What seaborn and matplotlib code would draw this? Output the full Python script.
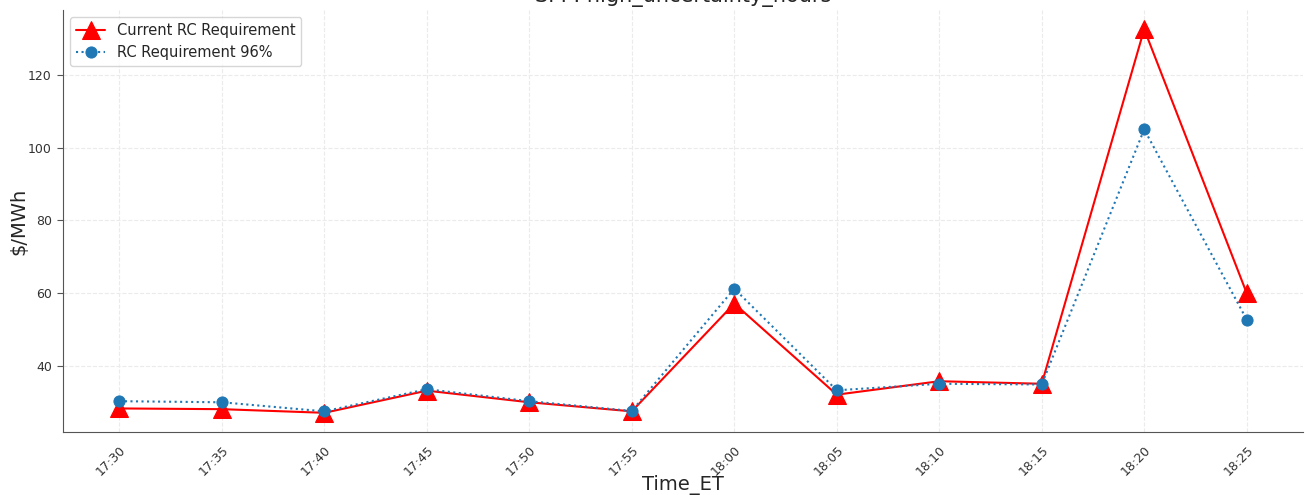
import matplotlib
matplotlib.use("Agg")
import matplotlib.pyplot as plt
import seaborn as sns
import pandas as pd

times = ["17:30", "17:35", "17:40", "17:45", "17:50", "17:55",
         "18:00", "18:05", "18:10", "18:15", "18:20", "18:25"]
current_rc = [28.2, 28.0, 27.0, 33.1, 29.9, 27.4, 57.1, 32.0, 35.7, 35.0, 132.7, 60.0]
rc_96 = [30.2, 29.9, 27.4, 33.5, 30.2, 27.5, 61.2, 33.2, 35.0, 34.8, 105.1, 52.7]

sns.set_style("white", {
    "axes.edgecolor": "#555555",
    "grid.color": "#e6e6e6",
    "grid.linestyle": "--",
    "xtick.bottom": True,
    "ytick.left": True,
})

df = pd.DataFrame({"Time_ET": times, "current": current_rc, "p96": rc_96})
df["idx"] = range(len(times))

fig = plt.figure(figsize=(13.05, 4.95), dpi=100)
ax = fig.add_axes([0.0483, 0.1273, 0.9502, 0.8525])

sns.lineplot(data=df, x="idx", y="current", ax=ax, color="red", linestyle="-",
             marker="^", markersize=13, markeredgecolor="red", linewidth=1.5,
             label="Current RC Requirement")
sns.lineplot(data=df, x="idx", y="p96", ax=ax, color="#1f77b4", linestyle=":",
             marker="o", markersize=8, markeredgecolor="#1f77b4", linewidth=1.5,
             label="RC Requirement 96%")

ax.set_xticks(df["idx"])
ax.set_xticklabels(times, rotation=45, ha="right", rotation_mode="anchor")
ax.set_yticks([40, 60, 80, 100, 120])
ax.tick_params(axis="both", labelsize=9, colors="#555555", labelcolor="#333333")
ax.tick_params(axis="x", length=0, pad=8)
ax.tick_params(axis="y", length=4, pad=4)
ax.margins(x=0.05, y=0.05)
ax.grid(True, linestyle="--", color="#ebebeb", linewidth=0.8)
sns.despine(ax=ax)

ax.set_xlabel("Time_ET", fontsize=14, labelpad=-2)
ax.set_ylabel("$/MWh", fontsize=14, labelpad=0)
ax.set_title("SPP: high_uncertainty_hours", fontsize=15)
ax.legend(loc="upper left", fontsize=10.5, frameon=True)

fig.savefig("out.png", dpi=100)
